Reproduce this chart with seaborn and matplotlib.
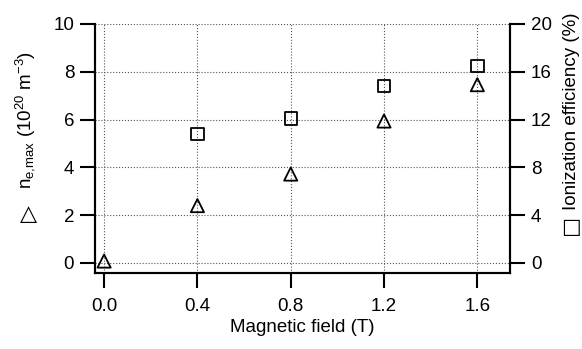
import numpy as np
import pandas as pd
import matplotlib
matplotlib.use("Agg")
import matplotlib.pyplot as plt
import seaborn as sns

field = [0.0, 0.4, 0.8, 1.2, 1.6]
ne_max = [0.08, 2.4, 3.72, 5.94, 7.46]
field_eff = [0.4, 0.8, 1.2, 1.6]
efficiency = [10.8, 12.1, 14.8, 16.5]

sns.set_style("white")
plt.rcParams['font.family'] = ['Liberation Sans', 'DejaVu Sans']
plt.rcParams['mathtext.fontset'] = 'custom'
plt.rcParams['mathtext.rm'] = 'Liberation Sans'
plt.rcParams['mathtext.it'] = 'Liberation Sans:italic'
plt.rcParams['mathtext.default'] = 'regular'

W, H = 582, 349
fig = plt.figure(figsize=(W / 100, H / 100), dpi=100)
ax = fig.add_axes([95 / W, 1 - 273 / H, 415 / W, 249 / H])
ax2 = ax.twinx()

df1 = pd.DataFrame({'B': field, 'ne': ne_max})
df2 = pd.DataFrame({'B': field_eff, 'eff': efficiency})

sns.scatterplot(data=df1, x='B', y='ne', marker='^', s=90, facecolor='none',
                edgecolor='black', linewidth=1.3, ax=ax, zorder=3)
sns.scatterplot(data=df2, x='B', y='eff', marker='s', s=80, facecolor='none',
                edgecolor='black', linewidth=1.3, ax=ax2, zorder=3)

ax.set_xlim(-0.039, 1.74)
ax.set_ylim(-0.42, 10)
ax2.set_ylim(-0.84, 20)
ax.set_xticks([0.0, 0.4, 0.8, 1.2, 1.6])
ax.set_xticklabels(['0.0', '0.4', '0.8', '1.2', '1.6'])
ax.set_yticks(range(0, 11, 2))
ax2.set_yticks(range(0, 21, 4))

ax.grid(True, linestyle=':', color='#555555', linewidth=0.8)
ax.set_axisbelow(True)

for a in (ax, ax2):
    a.spines['top'].set_visible(False)
    for s in a.spines.values():
        s.set_linewidth(1.5)
        s.set_color('black')
    a.tick_params(direction='out', length=11, width=1.5, labelsize=13.5,
                  pad=4, colors='black')
    a.set_xlabel('')
    a.set_ylabel('')
ax.tick_params(axis='x', bottom=True, pad=7)
ax.tick_params(axis='y', left=True)
ax2.tick_params(axis='y', right=True)

fs = 13.5
fig.text(302 / W, 1 - 327 / H, 'Magnetic field (T)', fontsize=fs,
         ha='center', va='center', color='black')
fig.text(25 / W, 1 - 120 / H, '$n_{e{,}max}$ (10$^{20}$ m$^{-3}$)', fontsize=fs,
         rotation=90, ha='center', va='center', color='black')
fig.text(28 / W, 1 - 214 / H, '\u25b3', fontsize=16,
         ha='center', va='center', color='black',
         family=['DejaVu Sans'])
fig.text(572 / W, 1 - 111 / H, 'Ionization efficiency (%)', fontsize=fs,
         rotation=90, ha='center', va='center', color='black')
fig.text(571 / W, 1 - 227 / H, '\u25a1', fontsize=15,
         ha='center', va='center', color='black',
         family=['DejaVu Sans'])

fig.savefig('out.png', dpi=100)
